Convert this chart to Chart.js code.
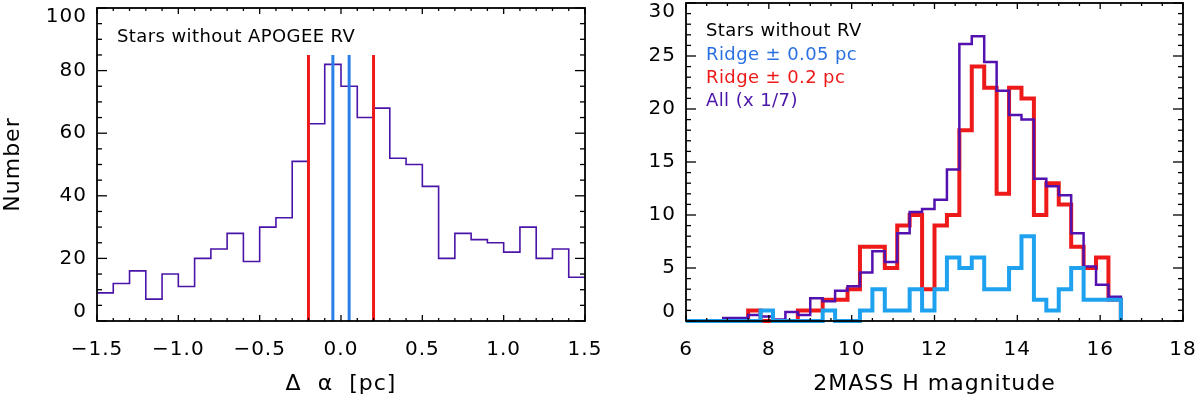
<!DOCTYPE html>
<html><head><meta charset="utf-8">
<script src="https://cdn.jsdelivr.net/npm/chart.js@4.4.1/dist/chart.umd.min.js"></script>
<style>
html,body{margin:0;padding:0;background:#fff;width:1200px;height:398px;overflow:hidden}
#l{position:absolute;left:0;top:0}
#r{position:absolute;left:600px;top:0}
</style></head><body>
<canvas id="l" width="600" height="398"></canvas>
<canvas id="r" width="600" height="398"></canvas>
<script>
// ---------- Left panel data ----------
const offsetEdges = [-1.5,-1.4,-1.3,-1.2,-1.1,-1.0,-0.9,-0.8,-0.7,-0.6,-0.5,-0.4,-0.3,-0.2,-0.1,0,0.1,0.2,0.3,0.4,0.5,0.6,0.7,0.8,0.9,1.0,1.1,1.2,1.3,1.4,1.5];
const offsetCounts = [9,12,16,7,15,11,20,23,28,19,30,33,51,63,82,75,65,68,52,50,43,20,28,26,25,22,30,20,23,14];
const ridgeWideOffsets = [-0.2, 0.2];
const ridgeNarrowOffsets = [-0.05, 0.05];
const ridgeLineTop = 85;
const leftXTicks = [-1.5,-1.0,-0.5,0,0.5,1.0,1.5];
const leftYTicks = [0,20,40,60,80,100];

// ---------- Right panel data ----------
const magEdges = [6.0,6.3,6.6,6.9,7.2,7.5,7.8,8.1,8.4,8.7,9.0,9.3,9.6,9.9,10.2,10.5,10.8,11.1,11.4,11.7,12.0,12.3,12.6,12.9,13.2,13.5,13.8,14.1,14.4,14.7,15.0,15.3,15.6,15.9,16.2,16.5];
const allCountsScaled = [0,0,0,0.29,0.29,0.57,0.43,0.14,0.86,0.57,2.14,1.86,2.86,3.29,4.57,6.57,5.57,8.29,10.29,10.57,11.43,14.29,26.14,26.86,24.43,21.71,19.43,19.0,13.43,12.71,11.86,8.29,5.14,3.43,2.29];
const ridgeWideCounts = [0,0,0,0,0,1,0,0,0,1,1,2,2,3,7,7,5,9,10,3,9,10,18,24,22,12,22,21,10,13,11,7,5,6,2];
const ridgeNarrowCounts = [0,0,0,0,0,0,1,0,0,0,0,1,0,0,1,3,1,1,3,1,3,6,5,6,3,3,5,8,2,1,3,5,2,2,2];
const rightXTicks = [6,8,10,12,14,16,18];
const rightYTicks = [0,5,10,15,20,25,30];

// ---------- helpers ----------
function stepPoints(edges, vals, dropToZero){
  const pts = vals.map((v,i)=>({x:edges[i], y:v}));
  pts.push({x:edges[edges.length-1], y:vals[vals.length-1]});
  if (dropToZero) pts.push({x:edges[edges.length-1], y:0});
  return pts;
}
function vline(xv, top, color, width){
  return {data:[{x:xv,y:0},{x:xv,y:top}], borderColor:color, borderWidth:width, pointRadius:0, clip:false, order:0};
}
// end labels are nudged inside the box (IDL style) via an empty extra line
function yLabel(v, i, ticks){
  if (i === 0) return [String(v), ''];
  if (i === ticks.length - 1) return ['', String(v)];
  return String(v);
}

Chart.defaults.font.family = "'DejaVu Sans', sans-serif";
Chart.defaults.color = '#000';

const spacing = {
  id:'spacing',
  beforeUpdate(c){ c.ctx.letterSpacing = '1px'; },
  beforeDraw(c){ c.ctx.letterSpacing = '1px'; }
};

const frame = {
  id:'frame',
  afterDatasetsDraw(chart, args, o){
    const {ctx, chartArea:a, scales:{x, y}} = chart;
    ctx.save();
    ctx.strokeStyle = '#000';
    ctx.lineWidth = 1.8;
    ctx.strokeRect(a.left, a.top, a.right - a.left, a.bottom - a.top);
    ctx.lineWidth = 1.3;
    const seg = (x1,y1,x2,y2)=>{ctx.beginPath();ctx.moveTo(x1,y1);ctx.lineTo(x2,y2);ctx.stroke();};
    const nx = Math.round((x.max - x.min)/o.xMinor);
    for (let i=0;i<=nx;i++){
      const v = x.min + i*o.xMinor;
      const major = i % o.xPer === 0;
      const len = major ? 6 : 3;
      const p = x.getPixelForValue(v);
      seg(p, a.bottom, p, a.bottom - len);
      seg(p, a.top, p, a.top + len);
    }
    const ny = Math.round((y.max - y.min)/o.yMinor);
    for (let i=0;i<=ny;i++){
      const v = y.min + i*o.yMinor;
      const major = i % o.yPer === 0;
      const len = major ? 10 : 5;
      const p = y.getPixelForValue(v);
      seg(a.left, p, a.left + len, p);
      seg(a.right, p, a.right - len, p);
    }
    ctx.restore();
  }
};

const notes = {
  id:'notes',
  afterDatasetsDraw(chart, args, o){
    const {ctx, chartArea:a} = chart;
    ctx.save();
    ctx.font = "18px 'DejaVu Sans'";
    ctx.letterSpacing = '0.4px';
    ctx.textBaseline = 'middle';
    ctx.textAlign = 'left';
    o.items.forEach(it=>{
      ctx.fillStyle = it.color;
      ctx.fillText(it.text, a.left + it.dx, a.top + it.dy);
    });
    ctx.restore();
  }
};

function baseScales(xmin,xmax,xticks,xfmt,xtitle,ymin,ymax,yticks,ytitle,yWidth){
  return {
    x:{type:'linear', min:xmin, max:xmax,
       afterBuildTicks:s=>{s.ticks = xticks.map(v=>({value:v}));},
       ticks:{font:{size:20}, padding:17, maxRotation:0, autoSkip:false, callback:xfmt},
       grid:{display:false, drawTicks:false}, border:{display:false},
       title:{display:true, text:xtitle, font:{size:22}, padding:{top:0,bottom:1}},
       afterFit:s=>{s.height = 77; s.paddingLeft = 0; s.paddingRight = 0;}
    },
    y:{type:'linear', min:ymin, max:ymax,
       afterBuildTicks:s=>{s.ticks = yticks.map(v=>({value:v}));},
       ticks:{font:{size:20, lineHeight:0.9}, padding:10, autoSkip:false, callback:yLabel},
       grid:{display:false, drawTicks:false}, border:{display:false},
       title:{display:!!ytitle, text:ytitle||'', font:{size:22}, padding:0},
       afterFit:s=>{s.width = yWidth; s.paddingTop = 0; s.paddingBottom = 0;}
    }
  };
}

new Chart(document.getElementById('l'), {
  type:'line',
  data:{datasets:[
    {data:stepPoints(offsetEdges, offsetCounts, false), stepped:true, borderColor:'#4b14a8', borderWidth:1.6, pointRadius:0, order:5, clip:4},
    ...ridgeWideOffsets.map(v=>vline(v, ridgeLineTop, '#ee1a1a', 3)),
    ...ridgeNarrowOffsets.map(v=>vline(v, ridgeLineTop, '#2a7fe6', 3))
  ]},
  options:{
    responsive:false, animation:false, devicePixelRatio:1,
    layout:{padding:{left:0, right:15, top:8, bottom:0}},
    plugins:{legend:{display:false}, tooltip:{enabled:false},
      frame:{xMinor:0.1, xPer:5, yMinor:5, yPer:4},
      notes:{items:[{text:'Stars without APOGEE RV', color:'#000', dx:20, dy:29}]}
    },
    scales: baseScales(-1.5, 1.5, leftXTicks, v=>(v<0?'\u2212':'')+Math.abs(v).toFixed(1), '\u0394  \u03b1  [pc]', 0, 100, leftYTicks, 'Number', 97)
  },
  plugins:[spacing, frame, notes]
});

new Chart(document.getElementById('r'), {
  type:'line',
  data:{datasets:[
    {data:stepPoints(magEdges, ridgeNarrowCounts, true), stepped:true, borderColor:'#1ea2f0', borderWidth:4, pointRadius:0, order:1, clip:5},
    {data:stepPoints(magEdges, allCountsScaled, true), stepped:true, borderColor:'#5312b0', borderWidth:2.5, pointRadius:0, order:2, clip:5},
    {data:stepPoints(magEdges, ridgeWideCounts, true), stepped:true, borderColor:'#ee1a1a', borderWidth:4, pointRadius:0, order:3, clip:5}
  ]},
  options:{
    responsive:false, animation:false, devicePixelRatio:1,
    layout:{padding:{left:0, right:17, top:3, bottom:0}},
    plugins:{legend:{display:false}, tooltip:{enabled:false},
      frame:{xMinor:0.5, xPer:4, yMinor:1, yPer:5},
      notes:{items:[
        {text:'Stars without RV', color:'#000', dx:20, dy:28},
        {text:'Ridge \u00b1 0.05 pc', color:'#2a70e0', dy:52, dx:20},
        {text:'Ridge \u00b1 0.2 pc', color:'#ee1a1a', dy:75, dx:20},
        {text:'All (x 1/7)', color:'#4b14a8', dy:98, dx:20}
      ]}
    },
    scales: baseScales(6, 18, rightXTicks, v=>String(v), '2MASS H magnitude', 0, 30, rightYTicks, null, 86)
  },
  plugins:[spacing, frame, notes]
});
</script>
</body></html>
